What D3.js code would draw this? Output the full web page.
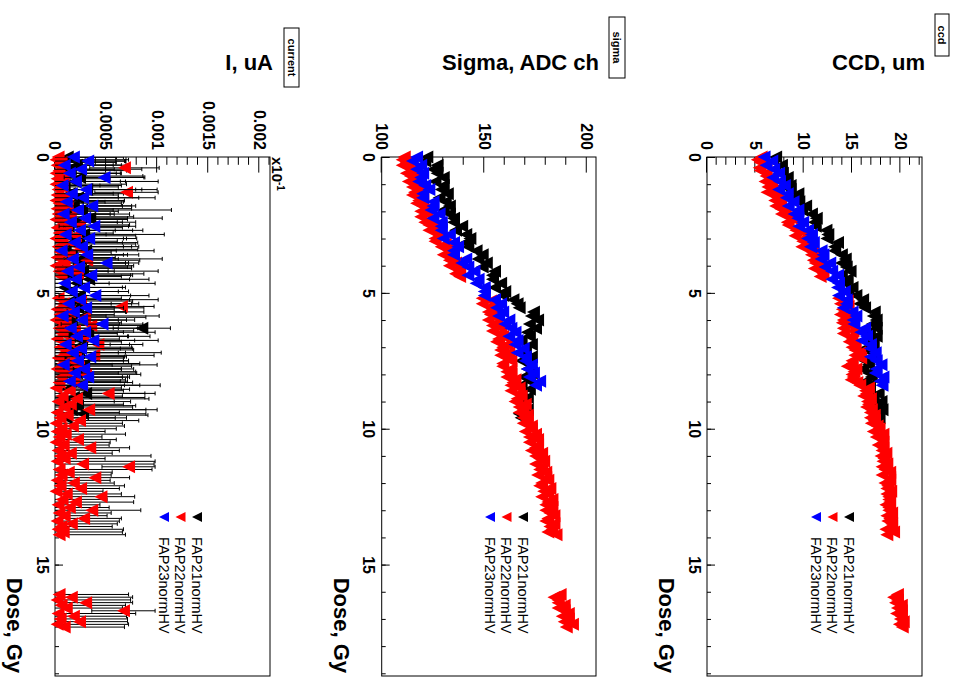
<!DOCTYPE html>
<html>
<head>
<meta charset="utf-8">
<script src="https://cdn.jsdelivr.net/npm/d3@7"></script>
<style>
  html, body { margin: 0; padding: 0; background: #fff; }
  svg { display: block; }
</style>
</head>
<body>
<svg id="chart" width="962" height="677"></svg>
<script>
// ---------------------------------------------------------------
// Data: one row per measurement  [dose Gy, CCD um, sigma ADC ch, I (x1e-4 uA), I error (x1e-4 uA)]
// ---------------------------------------------------------------
const fap21 = [
  [0.00,7.1,122,1.2,5.5],[0.15,6.8,121,0.8,6.1],[0.30,7.7,127,2.1,5.2],[0.45,7.0,125,1.5,7.0],
  [0.60,7.8,127,0.6,5.8],[0.75,8.3,130,2.4,6.4],[0.90,7.7,126,1.9,8.2],[1.05,8.6,130,0.9,5.6],
  [1.20,8.6,129,3.1,6.9],[1.35,9.4,132,1.4,5.3],[1.50,9.0,128,2.2,7.6],[1.65,9.5,131,0.7,6.0],
  [1.80,10.2,133,1.8,5.7],[1.95,9.8,130,2.6,8.8],[2.10,10.8,133,1.1,6.2],[2.25,11.3,135,3.4,7.1],
  [2.40,11.1,135,2.0,5.9],[2.55,11.2,139,1.3,6.6],[2.70,12.3,136,0.5,5.4],[2.85,12.5,141,2.8,7.9],
  [3.00,12.4,143,1.7,6.3],[3.15,13.5,141,2.3,5.8],[3.30,13.2,142,1.0,7.2],[3.45,13.2,146,3.0,6.7],
  [3.60,13.9,149,1.6,5.5],[3.75,14.3,147,2.5,8.0],[3.90,13.9,151,0.8,6.1],[4.05,14.4,149,1.9,5.6],
  [4.20,14.8,155,2.7,7.4],[4.35,13.9,154,1.2,6.4],[4.50,14.5,154,3.3,5.9],[4.65,14.3,158,2.1,7.7],
  [4.80,15.0,155,0.9,6.0],[4.95,14.6,160,1.5,5.7],[5.10,15.4,159,2.4,6.8],[5.25,16.1,164,1.8,8.3],
  [5.40,15.8,166,1.4,6.8],[5.55,16.3,167,2.2,6.5],[5.70,17.3,174,1.1,5.9],[5.85,17.2,173,2.9,7.3],
  [6.00,17.5,176,1.6,6.2],[6.15,17.1,172,0.7,5.6],[6.30,17.5,175,8.5,2.8],[6.45,16.8,171,3.2,6.6],
  [6.60,17.5,172,1.4,5.8],[6.75,16.7,168,2.6,7.5],[6.90,17.2,173,1.0,6.3],[7.05,16.3,170,1.9,5.7],
  [7.20,17.0,170,2.3,8.1],[7.35,17.1,173,0.8,6.0],[7.50,16.3,168,1.7,5.5],[7.65,16.7,172,2.8,7.2],
  [7.80,16.1,171,1.3,6.4],[7.95,16.7,173,2.1,5.9],[8.10,17.0,169,0.6,6.7],[8.25,16.4,172,1.5,5.6],
  [8.40,16.8,168,2.5,7.8],[8.55,16.8,172,1.2,6.1],[8.70,17.7,168,3.0,5.8],[8.85,17.2,171,1.8,7.0],
  [9.00,18.0,167,0.9,6.5],[9.15,17.6,169,2.2,5.7],[9.30,18.1,171,1.6,8.4],[9.45,17.6,167,2.7,6.2],
  [9.60,17.8,168,1.1,5.9]
];

const fap22 = [
  [0.0,5.6,111,0.3,5.7],[0.1,5.2,110,0.1,7.1],[0.2,5.5,112,0.6,5.4],[0.3,6.1,110,0.2,6.3],
  [0.4,5.4,113,6.8,3.4],[0.5,5.5,115,0.4,6.6],[0.6,6.1,112,0.1,5.9],[0.7,6.1,114,0.8,7.8],
  [0.8,6.5,116,0.2,5.2],[0.9,6.0,113,0.5,6.4],[1.0,6.7,116,0.1,6.9],[1.1,6.3,115,0.7,5.5],
  [1.2,7.1,118,0.3,8.2],[1.3,6.2,116,7.0,3.1],[1.4,7.0,115,0.2,6.0],[1.5,7.3,120,0.9,5.3],
  [1.6,7.0,118,0.1,6.7],[1.7,7.6,117,0.4,6.1],[1.8,7.1,120,1.2,5.4],[1.9,7.6,122,0.2,7.3],
  [2.0,8.1,119,0.6,5.6],[2.1,7.7,122,0.3,5.1],[2.2,8.4,119,1.5,6.2],[2.3,9.0,124,0.1,7.0],
  [2.4,8.3,121,0.8,5.8],[2.5,8.4,123,2.4,4.9],[2.6,9.3,126,0.2,6.4],[2.7,9.2,123,1.1,7.5],
  [2.8,10.0,127,0.4,5.3],[2.9,9.1,128,2.0,5.9],[3.0,10.0,126,0.1,6.6],[3.1,9.9,126,0.7,5.4],
  [3.2,10.7,131,1.8,6.1],[3.3,9.8,129,0.3,7.2],[3.4,10.8,132,2.6,5.5],[3.5,10.9,133,0.5,5.0],
  [3.6,10.8,130,1.4,6.8],[3.7,11.4,134,0.2,5.7],[3.8,11.0,133,3.1,5.2],[3.9,11.2,136,0.9,6.3],
  [4.0,11.8,133,0.1,7.6],[4.1,11.1,137,1.7,5.8],[4.2,11.8,138,0.4,5.4],[4.3,12.0,136,2.2,6.5],
  [4.4,11.7,138,0.6,5.9],
  [5.2,13.6,149,0.3,6.2],[5.3,14.5,153,2.5,5.1],[5.4,13.8,149,0.8,6.7],[5.5,14.6,153,6.5,3.2],
  [5.6,14.0,154,0.2,5.6],[5.7,14.2,152,1.4,7.3],[5.8,13.8,153,0.5,5.3],[5.9,14.8,156,2.9,6.0],
  [6.0,14.1,152,0.1,6.9],[6.1,14.0,156,1.0,5.5],[6.2,14.8,154,3.5,5.1],[6.3,14.1,158,0.4,7.7],
  [6.4,15.1,154,1.9,5.8],[6.5,14.1,158,0.7,5.4],[6.6,14.9,159,2.7,6.6],[6.7,15.0,157,0.2,6.1],
  [6.8,14.7,156,1.3,5.2],[6.9,15.3,161,4.2,4.4],[7.0,15.0,159,0.5,7.0],[7.1,15.3,158,2.0,5.7],
  [7.2,15.8,162,0.9,5.3],[7.3,15.3,158,3.8,5.9],[7.4,15.9,161,0.3,6.4],[7.5,15.0,163,1.6,5.6],
  [7.6,15.0,159,0.8,7.5],[7.7,14.5,159,2.3,5.2],[7.8,15.4,163,0.2,6.3],[7.9,15.2,161,1.1,6.8],
  [8.0,15.0,163,3.0,5.4],[8.1,15.1,161,0.6,6.0],[8.2,14.9,165,1.8,5.1],[8.3,15.5,164,0.4,7.2],
  [8.4,15.8,163,2.6,5.7],[8.5,16.7,167,0.1,6.4],[8.6,16.4,163,1.4,5.3],[8.7,16.5,167,5.2,4.6],
  [8.8,16.2,168,0.7,5.9],[8.9,16.9,166,2.1,7.1],[9.0,16.6,165,0.3,5.5],[9.1,16.7,170,1.5,5.2],
  [9.2,16.5,167,0.9,6.7],[9.3,17.0,169,3.3,5.6],[9.4,16.9,167,0.2,6.1],[9.5,17.3,171,1.2,7.9],
  [9.6,16.9,169,0.5,5.4],[9.7,17.3,171,2.4,5.8],[9.8,17.0,169,0.1,6.5],[9.9,17.6,173,1.7,5.1],
  [10.0,17.8,173,0.6,5.4],[10.1,17.2,170,0.2,4.7],[10.2,18.2,175,1.0,5.9],[10.3,17.5,172,0.4,4.2],
  [10.4,18.1,176,2.2,3.8],[10.5,18.2,172,0.1,5.3],[10.6,17.7,176,0.8,4.5],[10.7,18.2,175,3.4,3.9],
  [10.8,18.1,173,0.3,6.0],[10.9,18.5,178,1.5,4.1],[11.0,18.0,175,0.5,8.9],[11.1,18.3,177,0.9,4.0],
  [11.2,18.2,179,0.2,9.6],[11.3,18.6,175,2.7,7.0],[11.4,18.1,178,7.2,2.6],[11.5,18.4,177,0.4,9.1],
  [11.6,18.9,180,1.3,4.3],[11.7,18.1,176,0.6,4.9],[11.8,18.9,180,3.9,3.4],[11.9,18.9,181,0.2,5.2],
  [12.0,18.4,178,1.8,4.0],[12.1,18.7,177,0.5,6.3],[12.2,18.6,182,2.5,3.8],[12.3,19.0,179,0.1,4.6],
  [12.4,18.6,181,1.1,5.4],[12.5,18.8,178,4.5,3.3],[12.6,18.8,183,0.7,4.4],[12.7,18.9,181,2.0,5.7],
  [12.8,18.5,180,0.3,4.1],[12.9,18.8,183,1.4,3.9],[13.0,18.8,180,3.6,4.8],[13.1,19.1,182,0.4,5.1],
  [13.2,18.6,184,0.9,4.2],[13.3,18.9,181,2.8,3.7],[13.4,18.7,180,0.2,6.1],[13.5,19.1,184,1.6,4.5],
  [13.6,19.1,182,0.6,5.0],[13.7,18.5,183,0.3,6.4],[13.8,19.3,181,0.8,5.8],[13.9,18.6,185,0.4,6.5],
  [16.1,19.7,187,0.4,6.8],[16.2,19.3,184,1.6,6.0],[16.3,19.7,186,0.2,7.2],[16.4,19.5,186,3.0,4.6],
  [16.5,20.1,189,0.6,6.3],[16.6,19.7,186,1.1,5.5],[16.7,20.1,189,6.7,3.1],[16.8,19.6,191,0.3,7.6],
  [16.9,20.1,188,1.8,5.2],[17.0,20.0,191,0.5,6.6],[17.1,20.3,189,2.4,4.7],[17.2,19.9,193,0.2,7.0],
  [17.3,20.2,190,0.9,5.9]
];

const fap23 = [
  [0.00,5.9,117,1.8,4.2],[0.15,6.7,115,3.2,3.6],[0.30,6.1,119,0.9,4.8],[0.45,6.9,117,2.5,3.3],
  [0.60,7.4,120,1.4,5.1],[0.75,6.8,119,4.8,3.9],[0.90,7.5,118,2.0,4.4],[1.05,8.0,121,0.7,3.7],
  [1.20,7.4,123,3.0,4.9],[1.35,8.3,120,1.6,4.1],[1.50,8.2,120,2.7,5.5],[1.65,8.9,125,1.1,3.8],
  [1.80,8.4,125,3.6,4.3],[1.95,9.4,124,2.2,3.5],[2.10,9.0,128,0.8,5.0],[2.25,9.4,125,2.9,4.2],
  [2.40,9.9,129,1.5,4.6],[2.55,9.5,129,3.8,3.4],[2.70,10.4,129,2.4,5.2],[2.85,10.8,133,1.0,4.0],
  [3.00,10.4,130,3.3,3.7],[3.15,11.0,135,1.9,4.7],[3.30,10.7,137,2.6,4.1],[3.45,11.8,135,0.6,5.4],
  [3.60,12.0,135,3.1,3.6],[3.75,11.8,141,1.7,4.5],[3.90,12.7,139,5.0,3.2],[4.05,12.2,142,2.3,4.8],
  [4.20,12.9,145,1.2,4.0],[4.35,13.5,142,3.5,3.9],[4.50,12.9,147,2.0,5.3],[4.65,13.6,146,0.9,4.4],
  [4.80,13.5,150,2.8,3.8],[4.95,14.2,150,1.6,4.6],[5.10,13.6,150,3.9,3.5],[5.25,14.4,155,2.4,4.9],
  [5.40,14.4,158,1.3,4.2],[5.55,14.1,156,3.0,3.7],[5.70,15.0,159,1.8,5.1],[5.85,15.4,157,0.7,4.3],
  [6.00,15.1,162,2.6,3.6],[6.15,15.2,160,4.6,4.0],[6.30,16.3,163,1.5,4.7],[6.45,15.9,165,2.9,3.8],
  [6.60,16.5,162,2.1,5.0],[6.75,16.0,166,3.7,4.1],[6.90,16.9,165,1.0,4.4],[7.05,16.9,169,2.5,3.9],
  [7.20,17.4,166,1.7,5.2],[7.35,16.9,170,3.4,3.6],[7.50,17.5,170,2.2,4.5],[7.65,18.0,173,0.8,4.8],
  [7.80,17.5,171,2.8,3.7],[7.95,17.4,174,1.9,4.3],[8.10,18.2,172,3.2,3.9],[8.25,17.9,177,1.4,5.0],
  [8.40,18.1,175,2.6,4.2]
];

const seriesNames  = ["FAP21normHV", "FAP22normHV", "FAP23normHV"];
const seriesColors = ["#000000", "#ff0000", "#0000ff"];

const doseTicks    = [0, 5, 10, 15];
const ccdTicks     = [0, 5, 10, 15, 20];
const sigmaTicks   = [100, 150, 200];
const currentTicks = [0, 0.0005, 0.001, 0.0015, 0.002];
const currentTickLabels = ["0", "0.0005", "0.001", "0.0015", "0.002"];
const I_UNIT = 1e-4;   // current columns are stored in units of 1e-4

// ---------------------------------------------------------------
// Layout: a portrait canvas (three stacked pads) turned a quarter clockwise
// ---------------------------------------------------------------
const FONT = "'Liberation Sans', Arial, Helvetica, sans-serif";
const svg = d3.select("#chart");
const page = svg.append("g").attr("transform", "translate(962,0) rotate(90)");

const frameLeft = 157, frameRight = 676;
const x = d3.scaleLinear().domain([0, 19.1]).range([frameLeft, frameRight]);
const doseMinor = d3.range(0, 19.01, 1);

const series = [fap21, fap22, fap23].map((rows, i) => ({
  name: seriesNames[i], color: seriesColors[i], rows
}));

const panels = [
  { id: "ccd", boxText: "ccd", title: "CCD, um", top: 40, bottom: 255,
    domain: [0, 22.24], ticks: ccdTicks, labels: ccdTicks.map(String), minorStep: 1,
    value: r => r[1], box: [14, 56, 13, 27] },
  { id: "sigma", boxText: "sigma", title: "Sigma, ADC ch", top: 366, bottom: 580.3,
    domain: [100, 204.5], ticks: sigmaTicks, labels: sigmaTicks.map(String), minorStep: 10,
    value: r => r[2], box: [17, 78, 337, 353] },
  { id: "current", boxText: "current", title: "I, uA", top: 692, bottom: 907,
    domain: [0, 0.002105], ticks: currentTicks, labels: currentTickLabels, minorStep: 0.0001,
    value: r => r[3] * I_UNIT, err: r => r[4] * I_UNIT, box: [28, 87, 663, 678], exponent: true }
];

function triangleDown(cx, cy, w, h) {
  return `M${cx - w / 2},${cy - h / 2}L${cx + w / 2},${cy - h / 2}L${cx},${cy + h / 2}Z`;
}

function styleAxis(g, size, weight) {
  g.select(".domain").remove();
  g.attr("font-family", null).attr("font-size", null);
  g.selectAll("line").attr("stroke", "#000");
  g.selectAll("text")
    .attr("fill", "#000")
    .style("font-family", FONT)
    .style("font-size", size + "px")
    .style("font-weight", weight);
}

panels.forEach(p => {
  const y = d3.scaleLinear().domain(p.domain).range([p.bottom, p.top]);
  const g = page.append("g").attr("class", "pad-" + p.id);

  // pad title box
  const [bx0, bx1, by0, by1] = p.box;
  g.append("rect")
    .attr("x", bx0).attr("y", by0).attr("width", bx1 - bx0).attr("height", by1 - by0)
    .attr("fill", "#fff").attr("stroke", "#000").attr("stroke-width", 1);
  g.append("text")
    .attr("x", (bx0 + bx1) / 2).attr("y", (by0 + by1) / 2).attr("dy", "0.36em")
    .attr("text-anchor", "middle")
    .style("font-family", FONT).style("font-size", "11px").style("font-weight", "bold")
    .text(p.boxText);

  // dose axis (bottom of the pad), ticks pointing into the frame
  const xMajor = g.append("g").attr("transform", `translate(0,${p.bottom})`)
    .call(d3.axisBottom(x).tickValues(doseTicks).tickSize(-8).tickPadding(7).tickFormat(d3.format("d")));
  styleAxis(xMajor, 16, "bold");
  const xMinor = g.append("g").attr("transform", `translate(0,${p.bottom})`)
    .call(d3.axisBottom(x).tickValues(doseMinor).tickSize(-4).tickFormat(""));
  styleAxis(xMinor, 16, "bold");

  // value axis (left of the pad)
  const yMajor = g.append("g").attr("transform", `translate(${frameLeft},0)`)
    .call(d3.axisLeft(y).tickValues(p.ticks).tickSize(-15.6).tickPadding(7)
      .tickFormat((d, i) => p.labels[i]));
  styleAxis(yMajor, 16, "bold");
  const minorVals = d3.range(p.domain[0], p.domain[1] + 1e-12, p.minorStep)
    .filter(v => !p.ticks.some(t => Math.abs(t - v) < p.minorStep * 1e-3));
  const yMinor = g.append("g").attr("transform", `translate(${frameLeft},0)`)
    .call(d3.axisLeft(y).tickValues(minorVals).tickSize(-7.8).tickFormat(""));
  styleAxis(yMinor, 16, "bold");

  // frame
  g.append("rect")
    .attr("x", frameLeft).attr("y", p.top)
    .attr("width", frameRight - frameLeft).attr("height", p.bottom - p.top)
    .attr("fill", "none").attr("stroke", "#000").attr("stroke-width", 1);

  // axis titles
  g.append("text")
    .attr("transform", `translate(70,${p.top - 3}) rotate(-90)`)
    .attr("text-anchor", "end")
    .style("font-family", FONT).style("font-size", "22px").style("font-weight", "bold")
    .text(p.title);
  g.append("text")
    .attr("x", 673).attr("y", p.bottom + 48)
    .attr("text-anchor", "end")
    .style("font-family", FONT).style("font-size", "22px").style("font-weight", "bold")
    .text("Dose, Gy");

  if (p.exponent) {
    const t = g.append("text")
      .attr("x", frameLeft).attr("y", p.top - 2)
      .style("font-family", FONT).style("font-size", "15px").style("font-weight", "bold");
    t.append("tspan").text("x10");
    t.append("tspan").attr("dy", -5).style("font-size", "10px").text("-1");
  }

  // clip for error bars
  const clipId = "clip-" + p.id;
  g.append("clipPath").attr("id", clipId).append("rect")
    .attr("x", frameLeft).attr("y", p.top)
    .attr("width", frameRight - frameLeft).attr("height", p.bottom - p.top);

  // graphs, drawn in legend order
  series.forEach(s => {
    if (p.err) {
      const eb = g.append("g").attr("clip-path", `url(#${clipId})`)
        .attr("stroke", "#000").attr("stroke-width", 1).attr("fill", "none");
      s.rows.forEach(r => {
        const cx = x(r[0]);
        const v = p.value(r), e = p.err(r);
        const yHi = y(v + e), yLo = y(Math.max(p.domain[0], v - e));
        eb.append("line").attr("x1", cx).attr("x2", cx).attr("y1", yLo).attr("y2", yHi);
        eb.append("line").attr("x1", cx - 2).attr("x2", cx + 2).attr("y1", yHi).attr("y2", yHi);
        if (v - e > p.domain[0]) {
          eb.append("line").attr("x1", cx - 2).attr("x2", cx + 2).attr("y1", yLo).attr("y2", yLo);
        }
      });
    }
    g.append("g").selectAll("path").data(s.rows).join("path")
      .attr("d", r => triangleDown(x(r[0]), y(p.value(r)), 13, 13))
      .attr("fill", s.color);
  });

  // legend
  const lg = g.append("g");
  series.forEach((s, i) => {
    const ly = p.top + 73 + i * 16.5;
    lg.append("path").attr("d", triangleDown(517, ly, 10, 10)).attr("fill", s.color);
    lg.append("text")
      .attr("x", 537).attr("y", ly).attr("dy", "0.36em")
      .style("font-family", FONT).style("font-size", "14.5px")
      .text(s.name);
  });
});
</script>
</body>
</html>
